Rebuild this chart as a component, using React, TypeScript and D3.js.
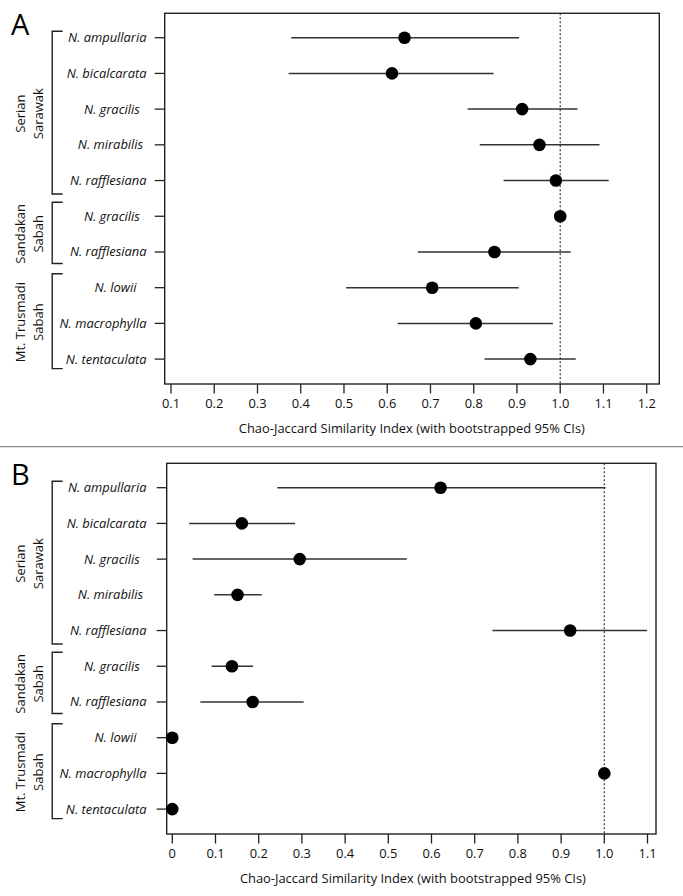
import React from "react";
import * as d3 from "d3";

const species = [
  "N. ampullaria",
  "N. bicalcarata",
  "N. gracilis\u00a0\u00a0",
  "N. mirabilis\u00a0",
  "N. rafflesiana",
  "N. gracilis\u00a0\u00a0",
  "N. rafflesiana",
  "N. lowii\u00a0\u00a0\u00a0",
  "N. macrophylla",
  "N. tentaculata",
];

const groupNames = [
  ["Serian", "Sarawak"],
  ["Sandakan", "Sabah"],
  ["Mt. Trusmadi", "Sabah"],
];
const groupStart = [0, 5, 7];
const groupEnd = [4, 6, 9];

const estA = [0.64, 0.611, 0.912, 0.952, 0.99, 1.0, 0.848, 0.704, 0.805, 0.931];
const loA: (number | null)[] = [0.378, 0.372, 0.786, 0.814, 0.869, null, 0.671, 0.505, 0.624, 0.825];
const hiA: (number | null)[] = [0.905, 0.846, 1.04, 1.091, 1.112, null, 1.024, 0.904, 0.983, 1.036];
const ticksA = [0.1, 0.2, 0.3, 0.4, 0.5, 0.6, 0.7, 0.8, 0.9, 1.0, 1.1, 1.2];
const tickLabelsA = ["0.1", "0.2", "0.3", "0.4", "0.5", "0.6", "0.7", "0.8", "0.9", "1.0", "1.1", "1.2"];

const estB = [0.621, 0.161, 0.295, 0.151, 0.921, 0.138, 0.186, 0, 1.0, 0];
const loB: (number | null)[] = [0.243, 0.039, 0.047, 0.097, 0.741, 0.091, 0.065, null, null, null];
const hiB: (number | null)[] = [1.003, 0.284, 0.543, 0.207, 1.099, 0.187, 0.304, null, null, null];
const ticksB = [0, 0.1, 0.2, 0.3, 0.4, 0.5, 0.6, 0.7, 0.8, 0.9, 1.0, 1.1];
const tickLabelsB = ["0", "0.1", "0.2", "0.3", "0.4", "0.5", "0.6", "0.7", "0.8", "0.9", "1.0", "1.1"];
const yTickShownB = [true, true, true, false, true, true, true, true, true, true];

const refValue = 1.0;
const axisTitle = "Chao-Jaccard Similarity Index (with bootstrapped 95% CIs)";

const FONT = "'Open Sans', 'Noto Sans', sans-serif";
const bracketPad = [
  [6.5, 13.5],
  [14, 11.5],
  [14, 9.5],
];

type PanelProps = {
  letter: string;
  top: number;
  boxLeft: number;
  boxRight: number;
  xDomain: [number, number];
  xRange: [number, number];
  est: number[];
  lo: (number | null)[];
  hi: (number | null)[];
  ticks: number[];
  tickLabels: string[];
  yTickShown: boolean[];
};

function Panel(p: PanelProps) {
  const x = d3.scaleLinear().domain(p.xDomain).range(p.xRange);
  const idx = species.map((_, i) => i);
  const y = d3
    .scalePoint<number>()
    .domain(idx)
    .range([p.top + 24.4, p.top + 345.8]);
  const boxTop = p.top;
  const boxBottom = p.top + 370.7;
  const labelX = 146.5;
  return (
    <g>
      <text x={11} y={p.top + 21.5} fontFamily={FONT} fontSize={29} fill="#000">
        {p.letter}
      </text>
      {groupNames.map((lines, g) => {
        const y0 = (y(groupStart[g]) as number) - bracketPad[g][0];
        const y1 = (y(groupEnd[g]) as number) + bracketPad[g][1];
        const yc = (y0 + y1) / 2;
        return (
          <g key={g}>
            <path
              d={`M62.7,${y0}H52.2V${y1}H62.7`}
              fill="none"
              stroke="#222"
              strokeWidth={1.4}
            />
            {lines.map((ln, k) => (
              <text
                key={k}
                transform={`translate(${k === 0 ? 24.5 : 42.5},${yc + 1}) rotate(-90)`}
                textAnchor="middle"
                fontFamily={FONT}
                fontSize={13}
                fill="#111"
              >
                {ln}
              </text>
            ))}
          </g>
        );
      })}
      {species.map((s, i) => (
        <text
          key={i}
          x={labelX}
          y={(y(i) as number) + 4.4}
          textAnchor="end"
          fontFamily={FONT}
          fontStyle="italic"
          fontSize={12.9}
          fill="#111"
          style={{ whiteSpace: "pre" }}
        >
          {s}
        </text>
      ))}
      {idx.map((i) =>
        p.yTickShown[i] ? (
          <line
            key={i}
            x1={p.boxLeft - 10}
            x2={p.boxLeft}
            y1={y(i)}
            y2={y(i)}
            stroke="#222"
            strokeWidth={1.3}
          />
        ) : null
      )}
      <rect
        x={p.boxLeft}
        y={boxTop}
        width={p.boxRight - p.boxLeft}
        height={boxBottom - boxTop}
        fill="none"
        stroke="#222"
        strokeWidth={1.4}
      />
      <line
        x1={x(refValue)}
        x2={x(refValue)}
        y1={boxTop}
        y2={boxBottom}
        stroke="#333"
        strokeWidth={1.2}
        strokeDasharray="2,2"
      />
      {p.ticks.map((t, i) => (
        <g key={i}>
          <line
            x1={x(t)}
            x2={x(t)}
            y1={boxBottom}
            y2={boxBottom + 9.5}
            stroke="#222"
            strokeWidth={1.3}
          />
          <text
            x={x(t)}
            y={boxBottom + 24}
            textAnchor="middle"
            fontFamily={FONT}
            fontSize={12.9}
            fill="#111"
          >
            {p.tickLabels[i]}
          </text>
        </g>
      ))}
      <text
        x={(x(p.xDomain[0]) + x(p.xDomain[1])) / 2 + 3}
        y={boxBottom + 49.3}
        textAnchor="middle"
        fontFamily={FONT}
        fontSize={12.9}
        fill="#111"
      >
        {axisTitle}
      </text>
      {idx.map((i) => {
        const l = p.lo[i];
        const h = p.hi[i];
        return (
          <g key={i}>
            {l !== null && h !== null ? (
              <line
                x1={x(l)}
                x2={x(h)}
                y1={y(i)}
                y2={y(i)}
                stroke="#333"
                strokeWidth={1.5}
              />
            ) : null}
            <circle cx={x(p.est[i])} cy={y(i)} r={6.3} fill="#000" />
          </g>
        );
      })}
    </g>
  );
}

export default function App() {
  return (
    <svg
      width={683}
      height={896}
      style={{ position: "absolute", left: 0, top: 0, background: "#fff" }}
    >
      <rect width={683} height={896} fill="#fff" />
      <Panel
        letter="A"
        top={13.3}
        boxLeft={164.7}
        boxRight={659.3}
        xDomain={[0.1, 1.2]}
        xRange={[171, 646.7]}
        est={estA}
        lo={loA}
        hi={hiA}
        ticks={ticksA}
        tickLabels={tickLabelsA}
        yTickShown={species.map(() => true)}
      />
      <line x1={0} x2={683} y1={446.7} y2={446.7} stroke="#888" strokeWidth={1.3} />
      <Panel
        letter="B"
        top={463.3}
        boxLeft={166.7}
        boxRight={656}
        xDomain={[0, 1.1]}
        xRange={[172.3, 647.5]}
        est={estB}
        lo={loB}
        hi={hiB}
        ticks={ticksB}
        tickLabels={tickLabelsB}
        yTickShown={yTickShownB}
      />
    </svg>
  );
}
